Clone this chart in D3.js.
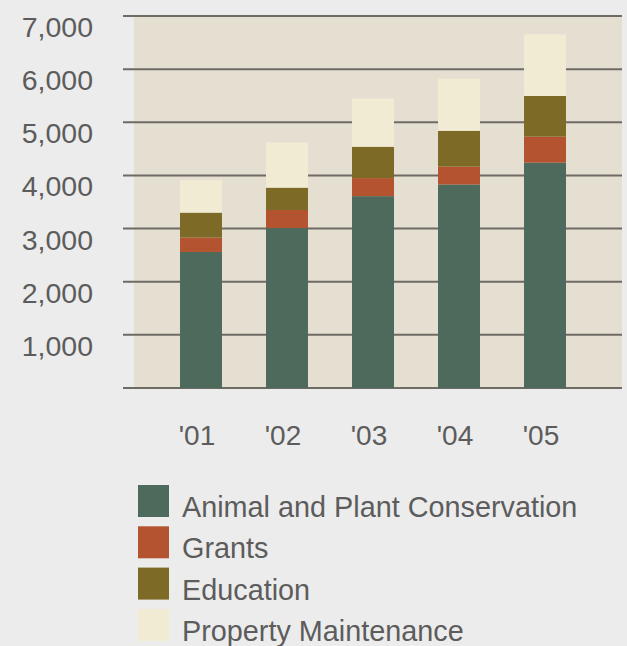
<!DOCTYPE html>
<html>
<head>
<meta charset="utf-8">
<script src="https://cdn.jsdelivr.net/npm/d3@7"></script>
<style>
  html, body { margin: 0; padding: 0; background: #ececec; }
  svg { display: block; }
  text { font-family: "Liberation Sans", Arial, Helvetica, sans-serif; fill: #5c5c5c; }
</style>
</head>
<body>
<svg id="chart" width="627" height="646"></svg>
<script>
// Fiscal years and spending by program (thousands)
const years = ["'01", "'02", "'03", "'04", "'05"];
const conservation = [2560, 3010, 3610, 3830, 4240];
const grants = [270, 340, 340, 335, 490];
const education = [470, 420, 590, 675, 765];
const property = [610, 850, 910, 980, 1160];
const yTicks = [1000, 2000, 3000, 4000, 5000, 6000, 7000];
const seriesNames = ["Animal and Plant Conservation", "Grants", "Education", "Property Maintenance"];
const seriesColors = ["#4d6a5c", "#b3532f", "#7d6a26", "#f0ebd2"];

const svg = d3.select("#chart");

const x = d3.scaleBand()
  .domain(years)
  .range([134, 612])
  .paddingInner(0.512)
  .paddingOuter(0.535);

const y = d3.scaleLinear().domain([0, 7000]).range([388, 16]);

// plot panel
svg.append("rect")
  .attr("x", 134).attr("y", y(7000))
  .attr("width", 622 - 134).attr("height", y(0) - y(7000))
  .attr("fill", "#e5dfd2");

// horizontal grid lines, extending past the panel on the left
const gridVals = [0].concat(yTicks);
svg.append("g").selectAll("line")
  .data(gridVals)
  .join("line")
  .attr("x1", 123).attr("x2", 622)
  .attr("y1", d => y(d)).attr("y2", d => y(d))
  .attr("stroke", "#6e6a64")
  .attr("stroke-width", 2);

// y tick labels, cap tops aligned with their grid line
svg.append("g").selectAll("text")
  .data(yTicks)
  .join("text")
  .attr("x", 93)
  .attr("y", d => y(d) + 21)
  .attr("text-anchor", "end")
  .attr("font-size", 28.5)
  .text(d => d3.format(",")(d));

// stacked bars
const rows = years.map((yr, i) => ({
  year: yr,
  s0: conservation[i], s1: grants[i], s2: education[i], s3: property[i]
}));
const stack = d3.stack().keys(["s0", "s1", "s2", "s3"]);
const layers = stack(rows);

svg.append("g").selectAll("g")
  .data(layers)
  .join("g")
  .attr("fill", (d, i) => seriesColors[i])
  .selectAll("rect")
  .data(d => d)
  .join("rect")
  .attr("x", d => x(d.data.year))
  .attr("width", x.bandwidth())
  .attr("y", d => y(d[1]))
  .attr("height", d => y(d[0]) - y(d[1]));

// x labels
svg.append("g").selectAll("text")
  .data(years)
  .join("text")
  .attr("x", d => x(d) + x.bandwidth() / 2 - 4)
  .attr("y", 445)
  .attr("text-anchor", "middle")
  .attr("font-size", 28)
  .text(d => d);

// legend
const legend = svg.append("g").selectAll("g")
  .data(seriesNames)
  .join("g")
  .attr("transform", (d, i) => `translate(138, ${485 + i * 41.3})`);
legend.append("rect")
  .attr("width", 31).attr("height", 32)
  .attr("fill", (d, i) => seriesColors[i]);
legend.append("text")
  .attr("x", 44)
  .attr("y", 32)
  .attr("font-size", 28.8)
  .text(d => d);
</script>
</body>
</html>
